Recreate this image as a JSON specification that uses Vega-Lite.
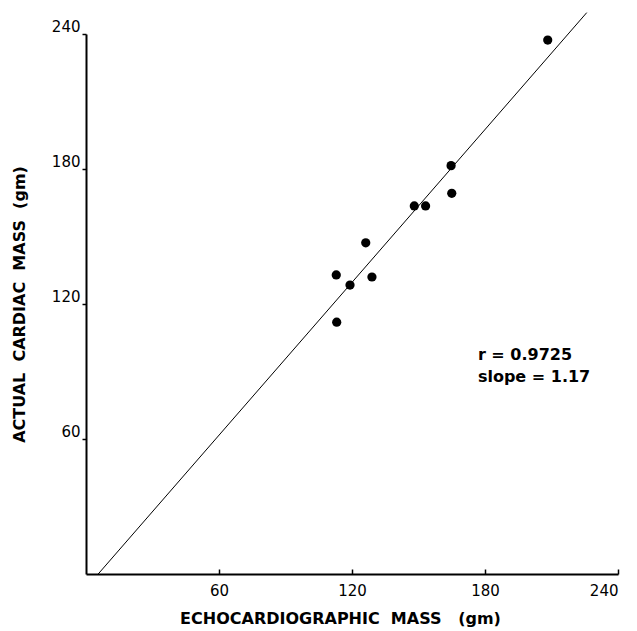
{
  "$schema": "https://vega.github.io/schema/vega-lite/v6.json",
  "autosize": {"type": "none"},
  "padding": {"left": 86, "top": 34, "right": 19, "bottom": 57},
  "width": 532,
  "height": 540,
  "background": "white",
  "config": {"view": {"stroke": null}, "font": "DejaVu Sans"},
  "datasets": {
    "points": [
      {"echo": 208.3, "actual": 237.3},
      {"echo": 164.7, "actual": 181.5},
      {"echo": 165.0, "actual": 169.2},
      {"echo": 148.1, "actual": 163.6},
      {"echo": 153.2, "actual": 163.6},
      {"echo": 126.2, "actual": 147.2},
      {"echo": 112.9, "actual": 132.9},
      {"echo": 119.1, "actual": 128.4},
      {"echo": 129.0, "actual": 132.0},
      {"echo": 113.1, "actual": 111.9}
    ],
    "fit": [
      {"echo": 5.5, "actual": 0},
      {"echo": 225.9, "actual": 249.5}
    ],
    "notes": [
      {"echo": 176.8, "actual": 95.1, "label": "r = 0.9725"},
      {"echo": 176.8, "actual": 85.3, "label": "slope = 1.17"}
    ]
  },
  "layer": [
    {
      "data": {"name": "fit"},
      "mark": {"type": "line", "color": "black", "strokeWidth": 1, "clip": false},
      "encoding": {
        "x": {
          "field": "echo", "type": "quantitative",
          "scale": {"domain": [0, 240], "nice": false, "zero": true},
          "axis": {
            "title": "ECHOCARDIOGRAPHIC\u00a0\u00a0MASS\u00a0\u00a0\u00a0(gm)",
            "values": [60, 120, 180, 240],
            "grid": false,
            "domainColor": "black", "domainWidth": 2,
            "tickColor": "black", "tickSize": -5, "tickWidth": 1.5,
            "labelFont": "DejaVu Sans", "labelFontSize": 15, "labelFontWeight": 500, "labelColor": "black",
            "labelPadding": 14,
            "titleFont": "DejaVu Sans", "titleFontSize": 16, "titleFontWeight": "bold",
            "titleColor": "black", "titlePadding": 12, "titleX": 254
          }
        },
        "y": {
          "field": "actual", "type": "quantitative",
          "scale": {"domain": [0, 240], "nice": false, "zero": true},
          "axis": {
            "title": "ACTUAL\u00a0\u00a0CARDIAC\u00a0\u00a0MASS\u00a0\u00a0(gm)",
            "values": [60, 120, 180, 240],
            "grid": false,
            "domainColor": "black", "domainWidth": 2,
            "tickColor": "black", "tickSize": 4, "tickWidth": 1.5,
            "labelFont": "DejaVu Sans", "labelFontSize": 15, "labelFontWeight": 500, "labelColor": "black",
            "labelPadding": 2, "labelBaseline": "bottom",
            "titleFont": "DejaVu Sans", "titleFontSize": 16, "titleFontWeight": "bold",
            "titleColor": "black", "titlePadding": 24
          }
        }
      }
    },
    {
      "data": {"name": "points"},
      "mark": {"type": "circle", "color": "black", "opacity": 1, "size": 85},
      "encoding": {
        "x": {"field": "echo", "type": "quantitative"},
        "y": {"field": "actual", "type": "quantitative"}
      }
    },
    {
      "data": {"name": "notes"},
      "mark": {"type": "text", "align": "left", "baseline": "alphabetic", "font": "DejaVu Sans", "fontSize": 16, "fontWeight": "bold", "color": "black"},
      "encoding": {
        "x": {"field": "echo", "type": "quantitative"},
        "y": {"field": "actual", "type": "quantitative"},
        "text": {"field": "label"}
      }
    }
  ]
}
